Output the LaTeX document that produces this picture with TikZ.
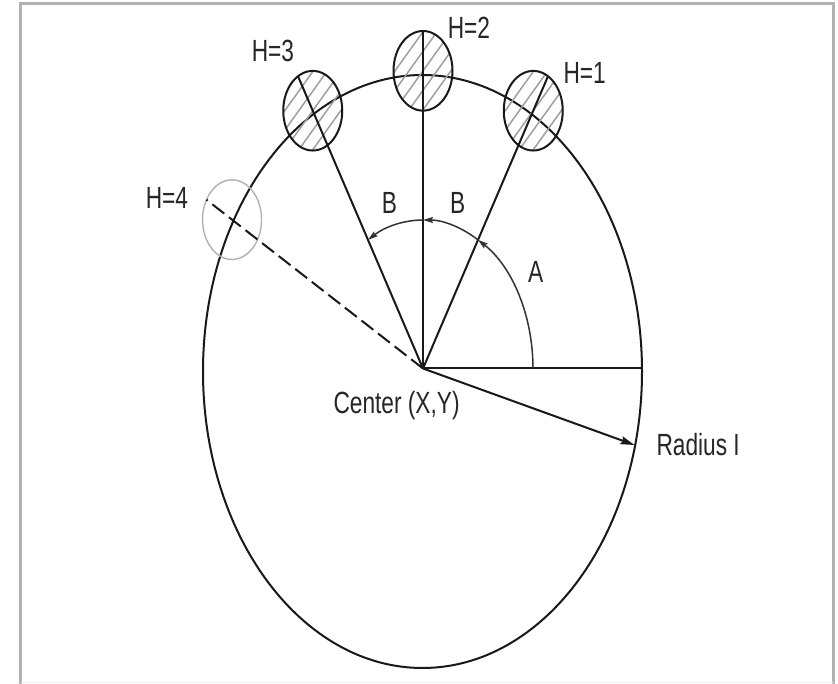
\documentclass[tikz,border=0pt]{standalone}
\usepackage{fontspec}
\setmainfont{Liberation Sans}
\usetikzlibrary{arrows.meta}
\begin{document}
\begin{tikzpicture}[x=1pt,y=-1pt,
  lbl/.style={anchor=base west, inner sep=0pt, outer sep=0pt, text=black!85,
    font=\fontsize{22.7}{26}\selectfont},
  bigline/.style={line width=2pt, black!90},
  arcline/.style={line width=1.5pt, black!80},
  hatchline/.style={line width=1.5pt, gray!75},
  dashline/.style={line width=2pt, black!90, dash pattern=on 15pt off 6pt},
  frameline/.style={line width=3pt, gray!60}]
\useasboundingbox (0,0) rectangle (838,684);
\fill[white] (0,0) rectangle (838,684);
% frame
\draw[frameline] (20.5,684) -- (20.5,3.5) -- (833,3.5) -- (833,684);
\draw[gray!12, line width=1.5pt] (20.5,682.5) -- (833,682.5);

% big outline
\coordinate (EC) at (422.5,371.5);
\draw[bigline] (EC) ellipse [x radius=219.5, y radius=296.5];

\coordinate (C) at (423,368.5);
\begin{scope}[shift={(C)}, x=1pt, y=1.35pt]
  \coordinate (O) at (0,0);
  % hatched small circles
  \foreach \a/\n in {60/1,90/2,120/3}{
    \begin{scope}[shift={(\a:220.5)}]
      \coordinate (S\n) at (0,0);
      \begin{scope}
        \clip (0,0) circle [radius=29.5];
        \foreach \k in {-5,...,5}
          \draw[hatchline] (\k*14-30,-31) -- (\k*14+30,31);
      \end{scope}
      \draw[bigline] (0,0) circle [radius=29.5];
    \end{scope}
  }
  % grey circle H=4
  \coordinate (S4) at (150:220.5);
  \draw[gray!60, line width=1.4pt] (S4) circle [radius=29.5];
  % radial lines
  \coordinate (E1) at (60:250);
  \coordinate (E2) at (90:250);
  \coordinate (E3) at (120:250);
  \coordinate (E4) at (150:250);
  \coordinate (E0) at (0:219);
  \coordinate (ER) at (-15:219);
  \draw[bigline] (O) -- (E1);
  \draw[bigline] (O) -- (E2);
  \draw[bigline] (O) -- (E3);
  \draw[dashline] (O) -- (E4);
  \draw[bigline] (O) -- (E0);
  \draw[bigline, -{Stealth[length=14pt,width=8pt,inset=2pt]}] (O) -- (ER);
  % angle arcs
  \draw[arcline, -{Stealth[length=10pt,width=6pt,inset=1.5pt]}]
    (0:110) arc [start angle=0, end angle=60, radius=110];
  \draw[arcline, -{Stealth[length=10pt,width=6pt,inset=1.5pt]}]
    (60:110) arc [start angle=60, end angle=90, radius=110];
  \draw[arcline, -{Stealth[length=10pt,width=6pt,inset=1.5pt]}]
    (90:110) arc [start angle=90, end angle=120, radius=110];
\end{scope}

% labels
\node[lbl] (h1) at (563.5,83.3) {\scalebox{1}[1.35]{H=1}};
\node[lbl] (h2) at (447.8,38.3) {\scalebox{1}[1.35]{H=2}};
\node[lbl] (h3) at (251.8,61.7) {\scalebox{1}[1.35]{H=3}};
\node[lbl] (h4) at (145.8,208.3) {\scalebox{1}[1.35]{H=4}};
\node[lbl] (b1) at (381.8,213.3) {\scalebox{1}[1.35]{B}};
\node[lbl] (b2) at (450.2,213.3) {\scalebox{1}[1.35]{B}};
\node[lbl] (a) at (528,283) {\scalebox{1}[1.35]{A}};
\node[lbl] (center) at (333.5,413.3) {\scalebox{1}[1.35]{Center (X,Y)}};
\node[lbl] (radius) at (656.5,455) {\scalebox{1}[1.35]{Radius I}};
\end{tikzpicture}
\end{document}
